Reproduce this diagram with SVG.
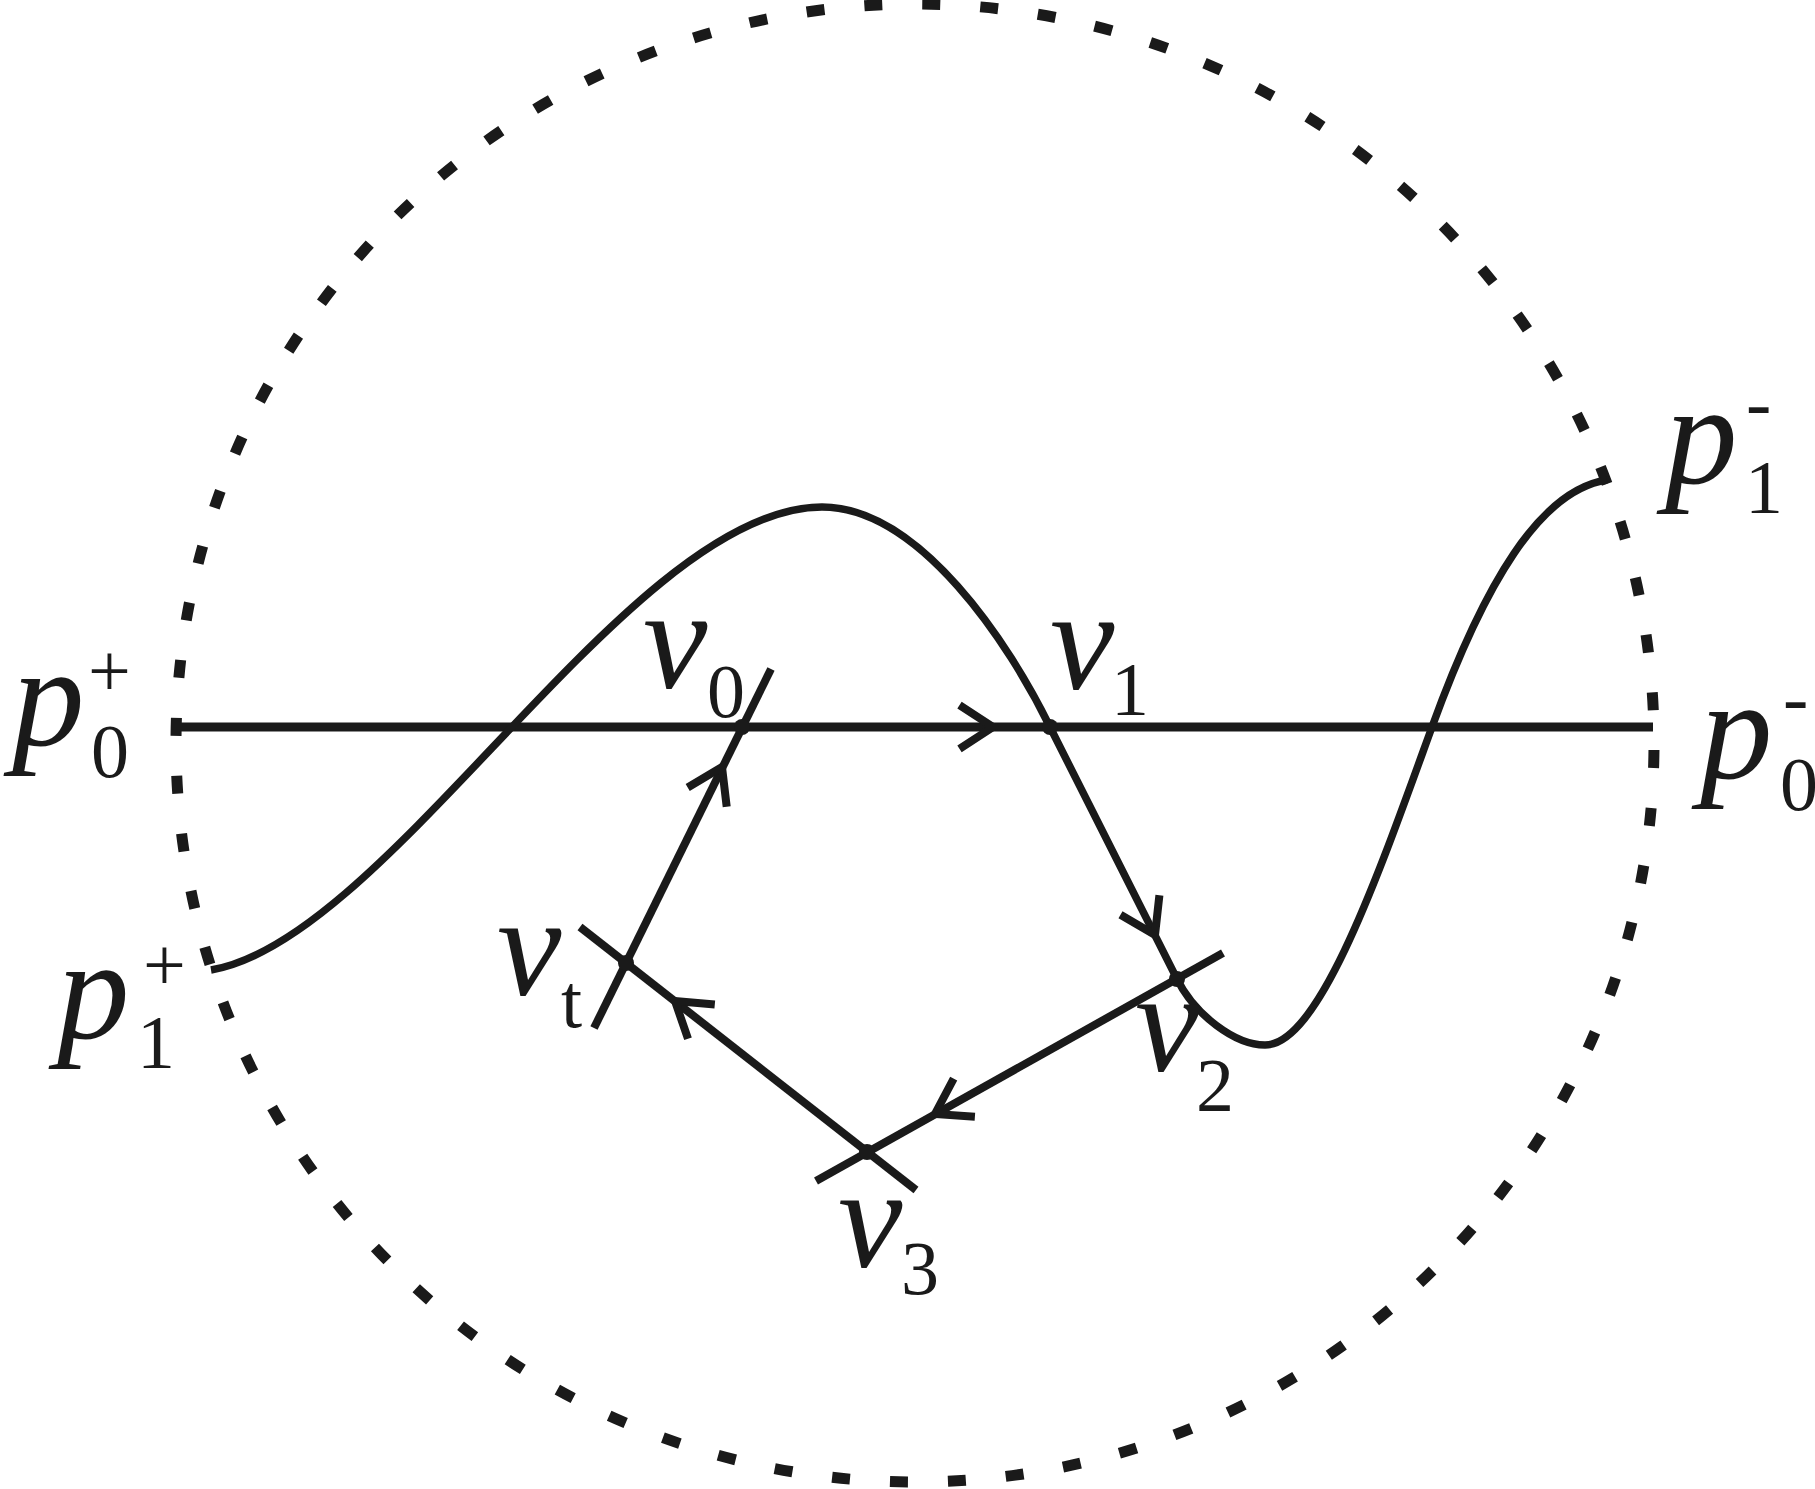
<svg xmlns="http://www.w3.org/2000/svg" width="1815" height="1489" viewBox="0 0 1815 1489">
<style>
.ln{fill:none;stroke:#1a1a1a;stroke-width:8;stroke-linecap:butt;stroke-linejoin:miter}
.big{font-family:"Liberation Serif","Times New Roman",serif;font-style:italic;font-size:145px;fill:#1a1a1a}
.sm{font-family:"Liberation Serif","Times New Roman",serif;font-size:76px;fill:#1a1a1a}
.dot{fill:#1a1a1a}
</style>
<rect width="1815" height="1489" fill="#fff"/>
<g id="boundary">
<circle cx="915" cy="743" r="739" fill="none" stroke="#1a1a1a" stroke-width="11" stroke-dasharray="18 40.04" stroke-dashoffset="-7"/>
</g>
<g id="connectors">
<line class="ln" x1="172" y1="727" x2="1653" y2="727" style="stroke-width:9"/>
<path class="ln" d="M211,970 C390,940 630,507 822,507 C920,507 1010,645 1050,727 L1177,979 C1195,1015 1235,1045 1265,1045 C1320,1045 1380,870 1432,727 C1484,584 1540,490 1607,480" style="stroke-width:7.5"/>
<line class="ln" x1="1223" y1="953" x2="816" y2="1181"/>
<line class="ln" x1="916" y1="1190" x2="580" y2="927"/>
<line class="ln" x1="594" y1="1028" x2="771" y2="669"/>
<polyline class="ln" points="959.5,705.2 993,727 959.5,748.8"/>
<polyline class="ln" points="1159.4,895.2 1155,935 1120.5,914.8"/>
<polyline class="ln" points="974.9,1116.7 935,1114 953.7,1078.6"/>
<polyline class="ln" points="688,1038.8 675,1001 714.8,1004.6"/>
<polyline class="ln" points="687.7,787.5 722,767 726.7,806.7"/>
</g>
<g id="v0"><circle class="dot" cx="742" cy="727" r="8"/><text class="big" x="643" y="688">v</text><text class="sm" x="707" y="717">0</text></g>
<g id="v1"><circle class="dot" cx="1050" cy="727" r="8"/><text class="big" x="1050" y="689">v</text><text class="sm" x="1111" y="715">1</text></g>
<g id="v2"><circle class="dot" cx="1177" cy="979" r="8"/><text class="big" x="1135" y="1071">v</text><text class="sm" x="1196" y="1111">2</text></g>
<g id="v3"><circle class="dot" cx="867" cy="1152" r="8"/><text class="big" x="838" y="1267">v</text><text class="sm" x="901" y="1294">3</text></g>
<g id="vt"><circle class="dot" cx="626" cy="963" r="8"/><text class="big" x="497" y="995">v</text><text class="sm" x="561" y="1027">t</text></g>
<g id="p0plus"><text class="big" x="12" y="745">p</text><text class="sm" x="91" y="777">0</text><text class="sm" x="88" y="696">+</text></g>
<g id="p1plus"><text class="big" x="57" y="1038">p</text><text class="sm" x="137" y="1068">1</text><text class="sm" x="143" y="990">+</text></g>
<g id="p1minus"><text class="big" x="1665" y="483">p</text><text class="sm" x="1745" y="513">1</text><text class="sm" x="1746" y="428">-</text></g>
<g id="p0minus"><text class="big" x="1700" y="778">p</text><text class="sm" x="1780" y="810">0</text><text class="sm" x="1783" y="723">-</text></g>
</svg>
